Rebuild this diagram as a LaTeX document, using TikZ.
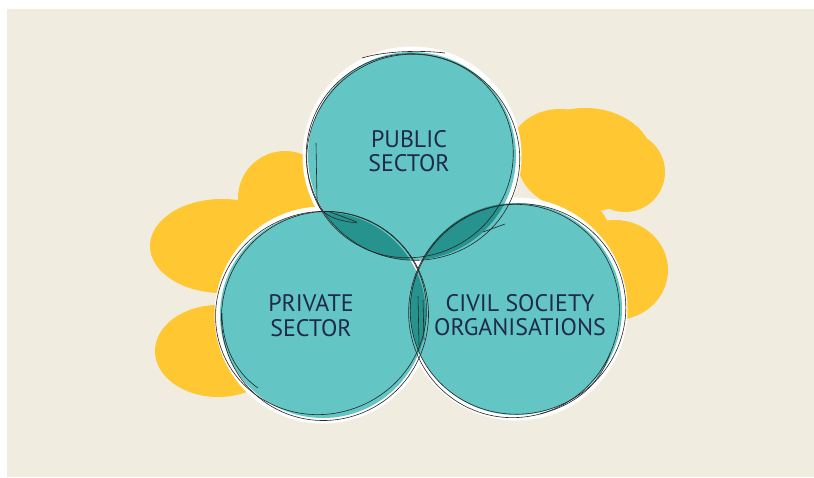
\documentclass[tikz,border=0pt]{standalone}
\usepackage{fontspec}
\newfontfamily\sectorfont{PT Sans}
\definecolor{beige}{HTML}{F0EDE0}
\definecolor{sunny}{HTML}{FFC832}
\definecolor{tealfill}{HTML}{63C5C4}
\definecolor{tealdark}{HTML}{27938F}
\definecolor{navy}{HTML}{1F2A4B}
\tikzset{
	sketch/.style={draw=black!85, line width=0.6pt},
	sectorlabel/.style={text=navy, align=center, inner sep=0pt,
		font=\sectorfont\fontsize{23.9}{24.4}\selectfont},
}
\begin{document}
\begin{tikzpicture}[x=1pt,y=-1pt]
	\useasboundingbox (0,0) rectangle (814,477);
	\fill[white] (0,0) rectangle (814,477);
	\fill[beige] (7,9) rectangle (814,477);
	
	\coordinate (pub) at (412,156);
	\coordinate (priv) at (323,315);
	\coordinate (civ) at (516,309);
	
	%Wolken links
	\fill[sunny] (222,246) ellipse (72 and 47);
	\fill[sunny] (285,198) circle (47);
	\fill[sunny] (300,232) ellipse (60 and 50);
	\fill[sunny] (218,351) ellipse (63 and 46);
	
	%Wolken rechts
	\fill[sunny] (585,160) ellipse (68 and 52);
	\fill[sunny] (560,150) ellipse (50 and 41);
	\fill[sunny] (625,172) circle (40);
	\fill[sunny] (615,270) ellipse (53 and 50);
	\fill[sunny] (565,235) ellipse (45 and 40);
	
	%Kreise
	\fill[white] (pub) circle (109.5);
	\fill[white] (priv) circle (108.5);
	\fill[white] (civ) circle (111.5);
	
	\fill[tealfill] (pub) circle (104);
	\fill[tealfill] (priv) circle (103);
	\fill[tealfill] (civ) circle (106);
	
	%Schnittflaechen
	\begin{scope}
		\clip (pub) circle (104);
		\fill[tealdark] (priv) circle (103);
		\fill[tealdark] (civ) circle (106);
	\end{scope}
	\begin{scope}
		\clip (priv) circle (103);
		\fill[tealdark] (civ) circle (106);
	\end{scope}
	
	%Skizzenlinien
	\draw[sketch, rotate around={-15:(413,157)}] (413,157) ellipse (107 and 103);
	\draw[sketch, rotate around={30:(410,156)}] (410,156) ellipse (104 and 101);
	\draw[sketch] (316,143) -- (317,200) .. controls (319,212) and (330,220) .. (357,223);
	\draw[sketch] (362,58) .. controls (385,51) and (420,50) .. (445,53);
	\draw[sketch] (483,232) -- (505,224);
	
	\draw[sketch, rotate around={20:(321,313)}] (321,313) ellipse (106 and 101);
	\draw[sketch, rotate around={-30:(325,316)}] (325,316) ellipse (103 and 105);
	\draw[sketch] (222,313) .. controls (222,345) and (235,372) .. (258,388);
	\draw[sketch] (330,212) -- (357,222);
	
	\draw[sketch, rotate around={15:(518,309)}] (518,309) ellipse (108 and 105);
	\draw[sketch, rotate around={-25:(514,311)}] (514,311) ellipse (105 and 107);
	\draw[sketch] (418,296) -- (419,345);
	\draw[sketch] (423,300) -- (424,340);
	\draw[sketch] (610,353) .. controls (600,385) and (575,405) .. (540,414);
	
	%Beschriftung
	\node[sectorlabel] (publab) at (409,151.2) {PUBLIC\\SECTOR};
	\node[sectorlabel] (privlab) at (311,315.5) {PRIVATE\\SECTOR};
	\node[sectorlabel] (civlab) at (520,315) {CIVIL SOCIETY\\ORGANISATIONS};
\end{tikzpicture}
\end{document}
